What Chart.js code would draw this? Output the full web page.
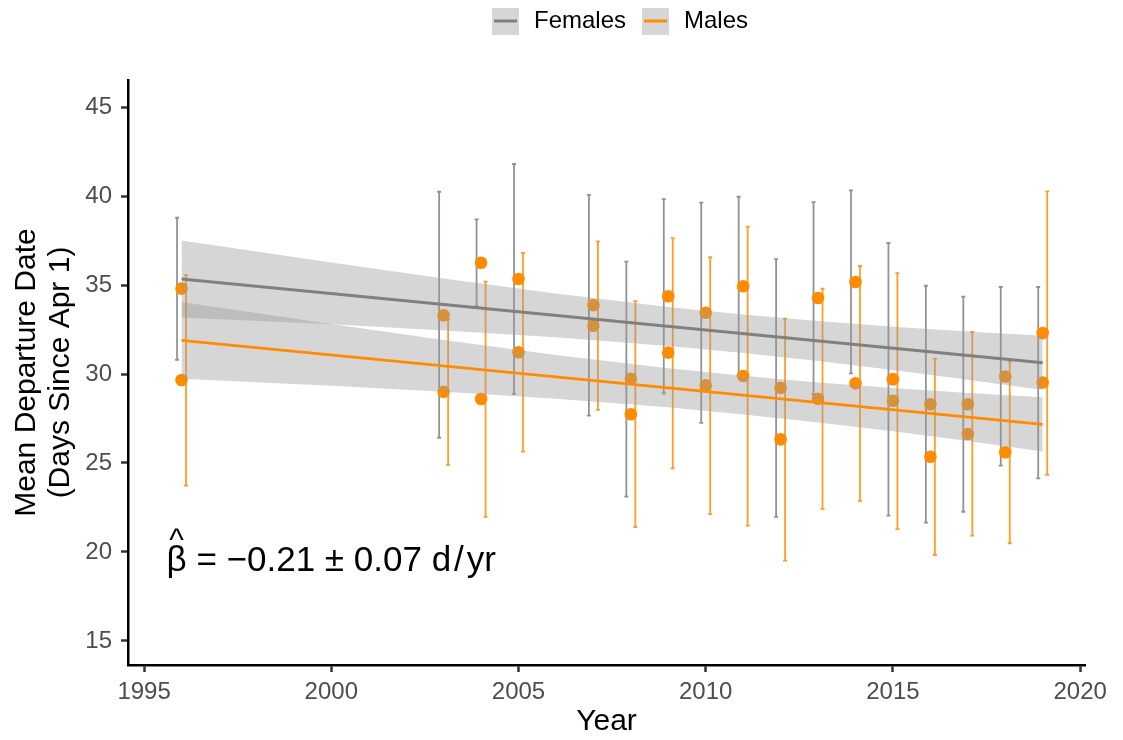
<!DOCTYPE html>
<html>
<head>
<meta charset="utf-8">
<title>Mean Departure Date</title>
<script src="https://cdn.jsdelivr.net/npm/chart.js@4.4.1/dist/chart.umd.min.js"></script>
<style>
  html, body { margin: 0; padding: 0; background: #fff; }
  canvas { display: block; }
</style>
</head>
<body>
<canvas id="chart" width="1123" height="740"></canvas>
<script>
// === DATA ===
const years = [1996, 2003, 2004, 2005, 2007, 2008, 2009, 2010, 2011, 2012, 2013, 2014, 2015, 2016, 2017, 2018, 2019];

const femaleMean = [34.80, 33.30, 36.25, 35.34, 33.87, 29.73, 34.37, 33.44, 34.93, 29.22, 34.27, 35.17, 29.71, 28.30, 28.30, 29.86, 29.52];
const femaleLow  = [30.80, 26.42, 33.82, 28.88, 27.66, 23.11, 28.91, 27.25, 29.90, 21.97, 28.86, 30.04, 22.04, 21.65, 22.26, 24.85, 24.14];
const femaleHigh = [38.78, 40.24, 38.69, 41.80, 40.07, 36.31, 39.83, 39.63, 39.96, 36.46, 39.66, 40.32, 37.36, 34.96, 34.34, 34.89, 34.89];

const maleMean = [29.66, 29.00, 28.60, 31.22, 32.71, 27.74, 31.20, 29.36, 29.89, 26.33, 28.61, 29.48, 28.50, 25.35, 26.63, 25.60, 32.30];
const maleLow  = [23.73, 24.89, 21.97, 25.64, 27.98, 21.40, 24.70, 22.13, 21.48, 19.51, 22.42, 22.87, 21.29, 19.83, 20.92, 20.49, 24.34];
const maleHigh = [35.56, 33.07, 35.19, 36.81, 37.45, 34.10, 37.64, 36.56, 38.28, 33.11, 34.79, 36.07, 35.67, 30.86, 32.36, 30.67, 40.26];

// fitted lines and their confidence bands
const lineYears = [1996, 2019];
const femaleFit = [35.34, 30.63];
const maleFit = [31.89, 27.17];

const ribbonYears = [1996, 2000, 2003, 2006, 2009, 2011, 2013, 2015, 2017, 2019];
const femaleUpper = [37.50, 36.26, 35.36, 34.52, 33.77, 33.35, 32.98, 32.66, 32.39, 32.15];
const femaleLower = [33.18, 32.79, 32.45, 32.06, 31.58, 31.18, 30.73, 30.23, 29.68, 29.10];
const maleUpper   = [34.05, 32.81, 31.91, 31.07, 30.32, 29.90, 29.53, 29.21, 28.94, 28.70];
const maleLower   = [29.73, 29.34, 29.00, 28.61, 28.13, 27.73, 27.28, 26.78, 26.23, 25.65];

const xTicks = [1995, 2000, 2005, 2010, 2015, 2020];
const yTicks = [15, 20, 25, 30, 35, 40, 45];

const seriesNames = ['Females', 'Males'];
const annotText = 'β = −0.21 ± 0.07 d\u200A/\u200Ayr';
const annotX = 1995.6;
const annotY = 18.95;

// === STYLE ===
const GREY = '#808080';
const ORANGE = '#FF8C00';
const RIBBON = 'rgba(153,153,153,0.4)';
const FONT = '"Liberation Sans", Arial, Helvetica, sans-serif';

Chart.defaults.font.family = FONT;

function pts(xs, ys) {
    return xs.map((x, i) => ({ x: x, y: ys[i] }));
}

// legend key: grey square with a short line, like ggplot's smooth key
function legendKey(color) {
    const c = document.createElement('canvas');
    c.width = 31;
    c.height = 27;
    const g = c.getContext('2d');
    g.fillStyle = '#D6D6D6';
    g.fillRect(4, 0, 27, 27);
    g.strokeStyle = color;
    g.lineWidth = 3;
    g.beginPath();
    g.moveTo(6, 13.5);
    g.lineTo(29, 13.5);
    g.stroke();
    return c;
}

// error bars go under points and ribbons
const errorBars = {
    id: 'errorBars',
    beforeDatasetsDraw(chart) {
        const { ctx, scales: { x, y } } = chart;
        const dodge = 0.12;
        const cap = 2;
        const sets = [
            [femaleLow, femaleHigh, -dodge, 'rgba(128,128,128,0.85)'],
            [maleLow, maleHigh, dodge, 'rgba(255,140,0,0.85)']
        ];
        ctx.save();
        ctx.lineWidth = 1.8;
        sets.forEach(([lo, hi, off, col]) => {
            ctx.strokeStyle = col;
            years.forEach((yr, i) => {
                const px = x.getPixelForValue(yr + off);
                const top = y.getPixelForValue(hi[i]);
                const bot = y.getPixelForValue(lo[i]);
                ctx.beginPath();
                ctx.moveTo(px, top); ctx.lineTo(px, bot);
                ctx.moveTo(px - cap, top); ctx.lineTo(px + cap, top);
                ctx.moveTo(px - cap, bot); ctx.lineTo(px + cap, bot);
                ctx.stroke();
            });
        });
        ctx.restore();
    }
};

// slope annotation with a hat over beta
const annotation = {
    id: 'annotation',
    afterDatasetsDraw(chart) {
        const { ctx, scales: { x, y } } = chart;
        const px = x.getPixelForValue(annotX);
        const py = y.getPixelForValue(annotY);
        ctx.save();
        ctx.fillStyle = '#000';
        ctx.textBaseline = 'alphabetic';
        ctx.textAlign = 'left';
        ctx.font = '35px ' + FONT;
        const bw = ctx.measureText('β').width;
        ctx.fillText(annotText, px, py);
        ctx.textAlign = 'center';
        ctx.font = '31px ' + FONT;
        ctx.fillText('^', px + bw / 2, py - 21);
        ctx.restore();
    }
};

// nudge the legend to sit over the panel like the original
const legendNudge = {
    id: 'legendNudge',
    afterLayout(chart) {
        if (chart.legend) {
            chart.legend.left += 10;
            chart.legend.right += 10;
        }
    }
};

const ribbon = { borderWidth: 0, borderColor: 'transparent', pointRadius: 0, backgroundColor: RIBBON, order: 3 };

new Chart(document.getElementById('chart'), {
    type: 'line',
    data: {
        datasets: [
            Object.assign({ data: pts(ribbonYears, femaleUpper), fill: '+1' }, ribbon),
            Object.assign({ data: pts(ribbonYears, femaleLower), fill: false }, ribbon),
            Object.assign({ data: pts(ribbonYears, maleUpper), fill: '+1' }, ribbon),
            Object.assign({ data: pts(ribbonYears, maleLower), fill: false }, ribbon),
            { label: seriesNames[0], data: pts(lineYears, femaleFit), borderColor: GREY, borderWidth: 3, pointRadius: 0, fill: false, order: 1 },
            { label: seriesNames[1], data: pts(lineYears, maleFit), borderColor: ORANGE, borderWidth: 3, pointRadius: 0, fill: false, order: 1 },
            { data: pts(years, femaleMean), showLine: false, pointRadius: 6.3, pointBackgroundColor: ORANGE, pointBorderWidth: 0, order: 5 },
            { data: pts(years, maleMean), showLine: false, pointRadius: 6.3, pointBackgroundColor: ORANGE, pointBorderWidth: 0, order: 5 }
        ]
    },
    options: {
        responsive: false,
        animation: false,
        layout: { padding: { right: 38 } },
        plugins: {
            tooltip: { enabled: false },
            legend: {
                position: 'top',
                fullSize: false,
                labels: {
                    usePointStyle: true,
                    pointStyleWidth: 37,
                    padding: 9,
                    color: '#000',
                    font: { size: 24 },
                    generateLabels: () => [
                        { text: seriesNames[0], pointStyle: legendKey(GREY), fillStyle: 'transparent', strokeStyle: 'transparent', lineWidth: 0, hidden: false, fontColor: '#000' },
                        { text: seriesNames[1], pointStyle: legendKey(ORANGE), fillStyle: 'transparent', strokeStyle: 'transparent', lineWidth: 0, hidden: false, fontColor: '#000' }
                    ]
                }
            }
        },
        scales: {
            x: {
                type: 'linear',
                min: 1994.57,
                max: 2020.13,
                afterBuildTicks: axis => { axis.ticks = xTicks.map(v => ({ value: v })); },
                afterFit: axis => { axis.height = 75; },
                grid: { display: true, drawOnChartArea: false, tickLength: 7, tickWidth: 2.5, tickColor: '#333' },
                border: { color: '#000', width: 2.5 },
                ticks: { padding: 6, color: '#4D4D4D', font: { size: 24 }, maxRotation: 0, autoSkip: false, callback: v => String(v) },
                title: { display: true, text: 'Year', color: '#000', font: { size: 30 }, padding: 0 }
            },
            // empty spacer between legend and panel
            x2: {
                type: 'linear',
                position: 'top',
                grid: { display: false },
                border: { display: false },
                ticks: { display: false },
                afterFit: axis => { axis.height = 37; }
            },
            y: {
                type: 'linear',
                min: 13.65,
                max: 46.52,
                afterBuildTicks: axis => { axis.ticks = yTicks.map(v => ({ value: v })); },
                afterFit: axis => { axis.width = 128; },
                grid: { display: true, drawOnChartArea: false, tickLength: 7, tickWidth: 2.5, tickColor: '#333' },
                border: { color: '#000', width: 2.5 },
                ticks: { padding: 9, color: '#4D4D4D', font: { size: 24 }, callback: v => String(v) },
                title: {
                    display: true,
                    text: ['Mean Departure Date', '(Days Since Apr 1)'],
                    color: '#000',
                    font: { size: 30, lineHeight: 1.15 },
                    padding: { top: 9, bottom: 0 }
                }
            }
        }
    },
    plugins: [errorBars, annotation, legendNudge]
});
</script>
</body>
</html>
